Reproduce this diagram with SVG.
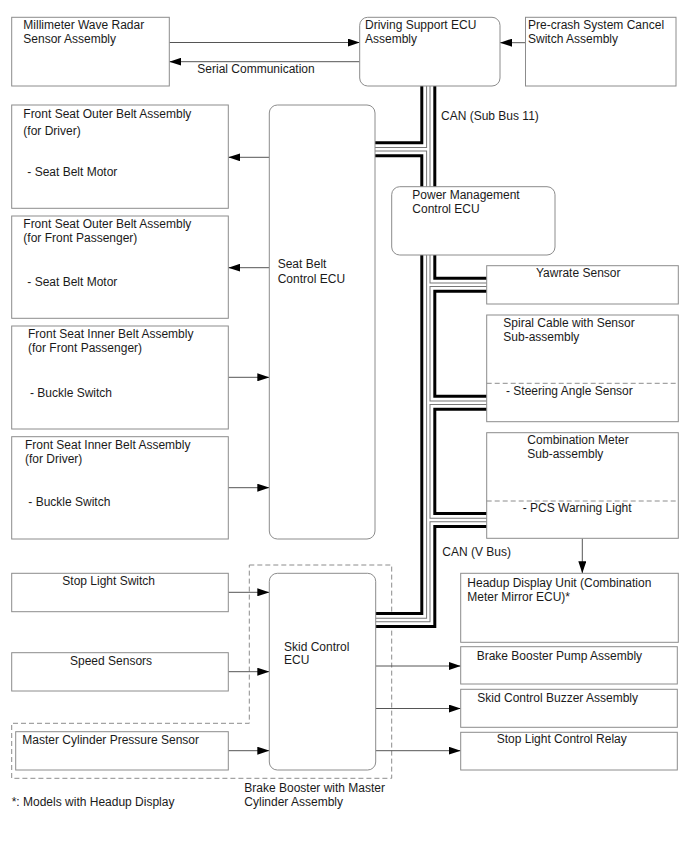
<svg xmlns="http://www.w3.org/2000/svg" width="688" height="852" viewBox="0 0 688 852">
<style>
text{font-family:"Liberation Sans",Arial,sans-serif;font-size:12px;fill:#1a1a1a}
.box{fill:#fff;stroke:#8c8c8c;stroke-width:1}
.div{stroke:#8c8c8c;stroke-width:1;stroke-dasharray:5,3;fill:none}
.outline{fill:none;stroke:#8c8c8c;stroke-width:1;stroke-dasharray:5,3}
.arr{stroke:#555;stroke-width:1;fill:none;marker-end:url(#ah)}
.b1{fill:none;stroke:#000;stroke-width:16}
.b2{fill:none;stroke:#fff;stroke-width:10}
.b3{fill:none;stroke:#777;stroke-width:4.4}
.b4{fill:none;stroke:#fff;stroke-width:2.4}
</style>
<defs>
<marker id="ah" viewBox="0 0 12 8" refX="12" refY="4" markerWidth="12" markerHeight="8" markerUnits="userSpaceOnUse" orient="auto">
<path d="M0,0 L12,4 L0,8 Z" fill="#000"/>
</marker>
<path id="bus" d="M428.3,80 V620 H370 M428.3,149.2 H370 M428.3,284.7 H492 M428.3,402.7 H492 M428.3,520 H492"/>
</defs>

<g id="brake-booster-outline">
<path class="outline" d="M249.3,565 H391.7 V778.3 H11.7 V723.3 H249.3 Z"/>
</g>

<g id="connectors">
<g id="can-bus">
<use href="#bus" class="b1"/>
<use href="#bus" class="b2"/>
<use href="#bus" class="b3"/>
<use href="#bus" class="b4"/>
</g>
<line class="arr" x1="169.3" y1="42.5" x2="359.7" y2="42.5"/>
<line class="arr" x1="359.7" y1="61.7" x2="169.3" y2="61.7"/>
<line class="arr" x1="525.5" y1="42.7" x2="500" y2="42.7"/>
<line class="arr" x1="269.3" y1="157.3" x2="228.3" y2="157.3"/>
<line class="arr" x1="269.3" y1="267.7" x2="228.3" y2="267.7"/>
<line class="arr" x1="228.3" y1="377.3" x2="269.3" y2="377.3"/>
<line class="arr" x1="228.3" y1="487.7" x2="269.3" y2="487.7"/>
<line class="arr" x1="228.3" y1="592.3" x2="269.3" y2="592.3"/>
<line class="arr" x1="228.3" y1="671.7" x2="269.3" y2="671.7"/>
<line class="arr" x1="228.3" y1="750.7" x2="269.3" y2="750.7"/>
<line class="arr" x1="375.7" y1="666" x2="460.7" y2="666"/>
<line class="arr" x1="375.7" y1="708.5" x2="460.7" y2="708.5"/>
<line class="arr" x1="375.7" y1="750.7" x2="460.7" y2="750.7"/>
<line class="arr" x1="582.3" y1="538.3" x2="582.3" y2="573.3"/>
<text x="197.3" y="73.3">Serial Communication</text>
<text x="441" y="120">CAN (Sub Bus 11)</text>
<text x="442.3" y="556">CAN (V Bus)</text>
</g>

<g id="millimeter-wave-radar">
<rect class="box" x="11.7" y="17.3" width="157.6" height="68.7"/>
<text x="23.3" y="29.3">Millimeter Wave Radar</text>
<text x="23.3" y="43.3">Sensor Assembly</text>
</g>

<g id="driving-support-ecu">
<rect class="box" x="359.7" y="17.3" width="140.3" height="68.7" rx="8"/>
<text x="365" y="29.3">Driving Support ECU</text>
<text x="365" y="43.3">Assembly</text>
</g>

<g id="pre-crash-switch">
<rect class="box" x="525.5" y="17.3" width="150.5" height="68.7"/>
<text x="528" y="29.3">Pre-crash System Cancel</text>
<text x="528" y="43.3">Switch Assembly</text>
</g>

<g id="outer-belt-driver">
<rect class="box" x="11.7" y="105" width="216.6" height="103.3"/>
<text x="23.3" y="118.3">Front Seat Outer Belt Assembly</text>
<text x="23.3" y="135">(for Driver)</text>
<text x="27.3" y="176">- Seat Belt Motor</text>
</g>

<g id="outer-belt-passenger">
<rect class="box" x="11.7" y="216" width="216.6" height="102.3"/>
<text x="23.3" y="228.3">Front Seat Outer Belt Assembly</text>
<text x="23.3" y="241.7">(for Front Passenger)</text>
<text x="27.3" y="285.7">- Seat Belt Motor</text>
</g>

<g id="inner-belt-passenger">
<rect class="box" x="11.7" y="326" width="216.6" height="103"/>
<text x="28" y="338.3">Front Seat Inner Belt Assembly</text>
<text x="28" y="352.3">(for Front Passenger)</text>
<text x="30" y="396.7">- Buckle Switch</text>
</g>

<g id="inner-belt-driver">
<rect class="box" x="11.7" y="436.7" width="216.6" height="102.3"/>
<text x="25" y="449.3">Front Seat Inner Belt Assembly</text>
<text x="25" y="462.7">(for Driver)</text>
<text x="28.3" y="505.7">- Buckle Switch</text>
</g>

<g id="seat-belt-ecu">
<rect class="box" x="269.3" y="105" width="105.7" height="434" rx="8"/>
<text x="277.7" y="268.3">Seat Belt</text>
<text x="277.7" y="282.7">Control ECU</text>
</g>

<g id="power-management-ecu">
<rect class="box" x="391.7" y="186.7" width="163.3" height="68.3" rx="8"/>
<text x="412.3" y="199.3">Power Management</text>
<text x="412.3" y="212.7">Control ECU</text>
</g>

<g id="yawrate-sensor">
<rect class="box" x="486.7" y="265.7" width="191.6" height="38.3"/>
<text x="536" y="277.3">Yawrate Sensor</text>
</g>

<g id="spiral-cable">
<rect class="box" x="486.7" y="315" width="191.6" height="106.7"/>
<line class="div" x1="486.7" y1="383.3" x2="678.3" y2="383.3"/>
<text x="503.3" y="326.7">Spiral Cable with Sensor</text>
<text x="503.3" y="340.7">Sub-assembly</text>
<text x="506" y="395">- Steering Angle Sensor</text>
</g>

<g id="combination-meter">
<rect class="box" x="486.7" y="432.7" width="191.6" height="105.6"/>
<line class="div" x1="486.7" y1="501" x2="678.3" y2="501"/>
<text x="527.3" y="444.3">Combination Meter</text>
<text x="527.3" y="458.3">Sub-assembly</text>
<text x="522.7" y="512.3">- PCS Warning Light</text>
</g>

<g id="headup-display">
<rect class="box" x="460.7" y="573.3" width="217.6" height="69"/>
<text x="467.3" y="586.7">Headup Display Unit (Combination</text>
<text x="467.3" y="601">Meter Mirror ECU)*</text>
</g>

<g id="brake-booster-pump">
<rect class="box" x="460.7" y="646.7" width="216.6" height="37.3"/>
<text x="476.7" y="660">Brake Booster Pump Assembly</text>
</g>

<g id="skid-control-buzzer">
<rect class="box" x="460.7" y="689.3" width="216.6" height="38"/>
<text x="477.3" y="701.7">Skid Control Buzzer Assembly</text>
</g>

<g id="stop-light-control-relay">
<rect class="box" x="460.7" y="732.3" width="216.6" height="37.7"/>
<text x="496.7" y="743.3">Stop Light Control Relay</text>
</g>

<g id="stop-light-switch">
<rect class="box" x="11.7" y="573.3" width="216.6" height="38.4"/>
<text x="62.3" y="585">Stop Light Switch</text>
</g>

<g id="speed-sensors">
<rect class="box" x="11.7" y="652.7" width="216.6" height="38.3"/>
<text x="70" y="665">Speed Sensors</text>
</g>

<g id="master-cylinder-pressure-sensor">
<rect class="box" x="15.7" y="731.7" width="212.6" height="38.3"/>
<text x="22.3" y="744">Master Cylinder Pressure Sensor</text>
</g>

<g id="skid-control-ecu">
<rect class="box" x="269.3" y="573.3" width="106.4" height="196.7" rx="8"/>
<text x="284" y="650.7">Skid Control</text>
<text x="284" y="664.3">ECU</text>
</g>

<g id="labels">
<text x="244.3" y="791.7">Brake Booster with Master</text>
<text x="244.3" y="805.7">Cylinder Assembly</text>
<text x="11.7" y="805.7">*: Models with Headup Display</text>
</g>
</svg>
